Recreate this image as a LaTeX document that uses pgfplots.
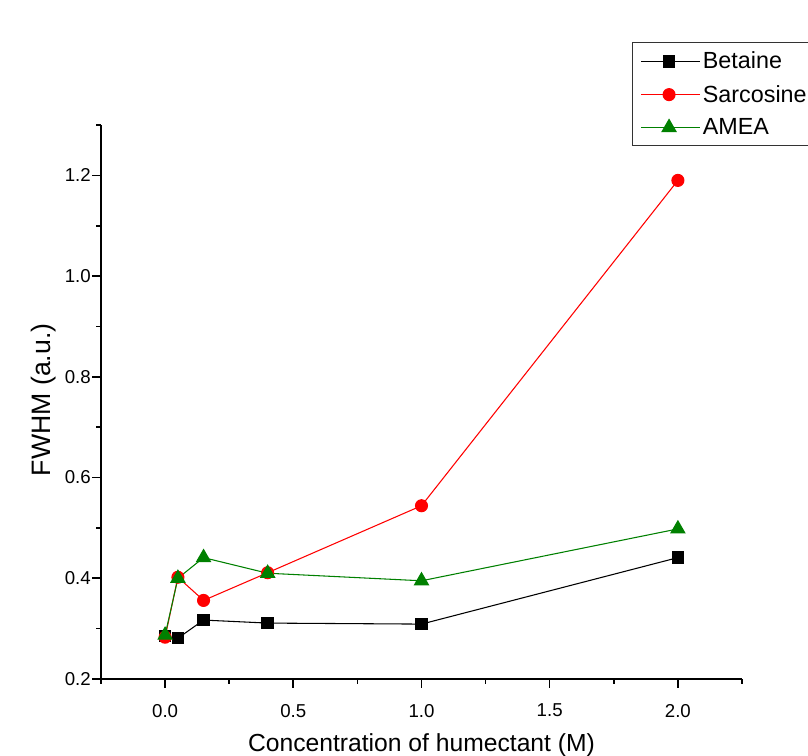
\documentclass[border=0pt]{standalone}
\usepackage{fontspec}
\setmainfont{Liberation Sans}
\usepackage{pgfplots}
\pgfplotsset{compat=1.18}
\definecolor{ogreen}{RGB}{0,128,0}
\begin{document}
\begin{tikzpicture}
\useasboundingbox (-75.75pt,-57.75pt) rectangle (530.25pt,509.25pt);
\clip (-75.75pt,-57.75pt) rectangle (530.25pt,509.25pt);
\begin{axis}[
  at={(0,0)}, anchor=south west,
  scale only axis,
  width=480.75pt, height=415.5pt,
  xmin=-0.25, xmax=2.25, ymin=0.2, ymax=1.3,
  axis x line*=bottom, axis y line*=left,
  axis line style={line width=1.2pt},
  tick align=outside,
  major tick length=6.5pt, minor tick length=3.5pt,
  every tick/.style={line width=1.2pt, black},
  xtick={0,0.5,1,1.5,2},
  xticklabels={0.0,0.5,1.0,1.5,2.0},
  minor xtick={-0.25,0.25,0.75,1.25,1.75,2.25},
  ytick={0.2,0.4,0.6,0.8,1.0,1.2},
  yticklabels={0.2,0.4,0.6,0.8,1.0,1.2},
  minor ytick={0.3,0.5,0.7,0.9,1.1,1.3},
  /pgf/number format/assume math mode=true,
  ticklabel style={font=\fontsize{14}{16}\selectfont, inner sep=0pt},
  xticklabel style={anchor=center, yshift=-17.25pt},
  yticklabel style={anchor=east, xshift=-1pt},
  xlabel={Concentration of humectant (M)},
  ylabel={FWHM (a.u.)},
  xlabel style={at={(axis description cs:0.5,-0.1191)}, anchor=center, font=\fontsize{18.5}{22}\selectfont},
  ylabel style={at={(axis description cs:-0.0889,0.504)}, anchor=center, font=\fontsize{20}{24}\selectfont},
  legend style={at={(axis description cs:0.8284,1.1498)}, anchor=north west,
    draw=black!80, line width=0.8pt, font=\fontsize{17.5}{21}\selectfont,
    inner xsep=6pt, inner ysep=5pt, row sep=6.8pt, cells={anchor=west}},
  legend cell align=left,
  legend image code/.code={\path (0pt,0pt) -- (44pt,0pt);\draw[mark repeat=2,mark phase=2,line width=0.8pt] plot coordinates {(3pt,0pt)(21pt,0pt)(39pt,0pt)};},
]
\addplot[black, line width=0.8pt, mark=square*, mark size=4.3pt, mark options={solid}] coordinates {
(0,0.285) (0.05,0.281) (0.15,0.317) (0.4,0.311) (1.0,0.309) (2.0,0.441)};
\addlegendentry{Betaine}
\addplot[red, line width=0.8pt, mark=*, mark size=4.5pt] coordinates {
(0,0.283) (0.05,0.402) (0.15,0.356) (0.4,0.411) (1.0,0.544) (2.0,1.19)};
\addlegendentry{Sarcosine}
\addplot[ogreen, line width=0.8pt, mark=triangle*, mark size=6pt] coordinates {
(0,0.287) (0.05,0.400) (0.15,0.441) (0.4,0.410) (1.0,0.395) (2.0,0.498)};
\addlegendentry{AMEA}
\end{axis}
\end{tikzpicture}
\end{document}
